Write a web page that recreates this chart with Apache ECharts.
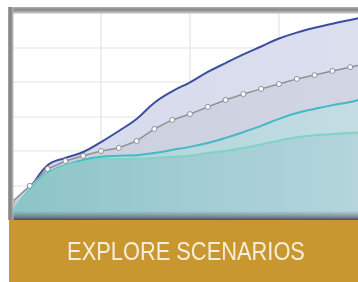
<!DOCTYPE html>
<html>
<head>
<meta charset="utf-8">
<script src="https://cdn.jsdelivr.net/npm/echarts@6/dist/echarts.min.js"></script>
<style>html,body{margin:0;padding:0;background:#fff;overflow:hidden;width:358px;height:282px;}#c{width:368px;height:282px;}</style>
</head>
<body>
<div id="c"></div>
<script>
var categories = ['0','1','2','3','4','5','6','7','8','9','10','11','12','13','14','15','16','17','18','19','20'];
var highSeries = [3.8,9.3,15.9,18.0,19.7,22.6,25.8,29.3,34.0,37.3,39.9,42.9,45.5,48.0,50.3,52.6,54.3,55.7,56.9,58.0,59.1];
var markedSeries = [5.2,9.9,14.8,17.1,18.6,20.0,20.9,22.9,26.4,29.0,30.7,32.8,34.8,36.5,38.0,39.4,40.9,42.0,43.2,44.3,45.5];
var midSeries = [2.3,8.7,13.6,15.9,17.4,18.3,18.6,18.8,19.4,20.3,21.2,22.3,23.8,25.5,27.3,29.3,31.0,32.2,33.3,34.2,35.7];
var lowSeries = [2.3,8.4,13.3,15.7,16.8,17.7,17.7,17.8,18.0,18.3,18.6,19.4,20.0,20.9,21.9,23.0,24.0,24.6,24.9,25.2,25.5];
var yTicks = {min: 0, max: 60, interval: 10};
var bannerText = 'EXPLORE SCENARIOS';

var chart = echarts.init(document.getElementById('c'), null, {renderer: 'canvas'});
function hgrad(a, b) {
  return new echarts.graphic.LinearGradient(0, 0, 1, 0, [{offset: 0, color: a}, {offset: 1, color: b}]);
}
chart.setOption({
  animation: false,
  backgroundColor: '#ffffff',
  grid: {left: 12, top: 13, right: 0, bottom: 62},
  xAxis: {
    type: 'category', data: categories, boundaryGap: false,
    axisLine: {show: false}, axisTick: {show: false}, axisLabel: {show: false},
    splitLine: {show: true, interval: function (i) { return i % 5 === 0; }, lineStyle: {color: '#e9e9ee', width: 1.5}}
  },
  yAxis: {
    type: 'value', min: yTicks.min, max: yTicks.max, interval: yTicks.interval,
    axisLine: {show: false}, axisTick: {show: false}, axisLabel: {show: false},
    splitLine: {show: true, lineStyle: {color: '#ececf0', width: 1.5}}
  },
  series: [
    {type: 'line', data: highSeries, smooth: 0.4, symbol: 'none', z: 1,
     lineStyle: {color: '#3b4f9e', width: 2}, areaStyle: {color: hgrad('#d6d9ec', '#dcdfee'), opacity: 1}},
    {type: 'line', data: markedSeries, smooth: false, symbol: 'circle', symbolSize: 5, z: 2,
     itemStyle: {color: '#ffffff', borderColor: '#8e8e94', borderWidth: 1},
     lineStyle: {color: '#8f8f96', width: 1.5}, areaStyle: {color: hgrad('#cbcedd', '#d2d5e3'), opacity: 1}},
    {type: 'line', data: midSeries, smooth: 0.4, symbol: 'none', z: 3,
     lineStyle: {color: '#46b7c6', width: 2}, areaStyle: {color: hgrad('#a9d3d8', '#c4dde3'), opacity: 1}},
    {type: 'line', data: lowSeries, smooth: 0.4, symbol: 'none', z: 4,
     lineStyle: {color: '#80d2c4', width: 2}, areaStyle: {color: hgrad('#8cc4c8', '#b5d5dd'), opacity: 1}}
  ],
  graphic: [
    {type: 'rect', z: 100, shape: {x: 8, y: 7, width: 360, height: 7},
     style: {fill: new echarts.graphic.LinearGradient(0, 0, 0, 1, [{offset: 0, color: '#b0b0b0'}, {offset: 0.35, color: '#8a8a8a'}, {offset: 0.7, color: '#a8a8a8'}, {offset: 1, color: 'rgba(220,220,220,0.6)'}])}},
    {type: 'rect', z: 101, shape: {x: 8, y: 7, width: 6, height: 213},
     style: {fill: new echarts.graphic.LinearGradient(0, 0, 1, 0, [{offset: 0, color: '#a8a8a8'}, {offset: 0.35, color: '#7e7e7e'}, {offset: 0.7, color: '#9e9e9e'}, {offset: 1, color: 'rgba(200,200,200,0.3)'}])}},
    {type: 'rect', z: 100, shape: {x: 8, y: 211, width: 360, height: 9},
     style: {fill: new echarts.graphic.LinearGradient(0, 0, 0, 1, [{offset: 0, color: 'rgba(90,90,100,0)'}, {offset: 0.6, color: 'rgba(90,90,100,0.55)'}, {offset: 1, color: 'rgba(70,70,75,0.95)'}])}},
    {type: 'rect', z: 102, shape: {x: 9, y: 220, width: 359, height: 62}, style: {fill: '#c99730'}},
    {type: 'text', z: 103, x: 186, y: 253, scaleX: 0.84, originX: 0, originY: 0,
     style: {text: bannerText, fill: '#f6eedb', font: '26px "Liberation Sans", Arial, sans-serif', align: 'center', verticalAlign: 'middle'}}
  ]
});
</script>
</body>
</html>
